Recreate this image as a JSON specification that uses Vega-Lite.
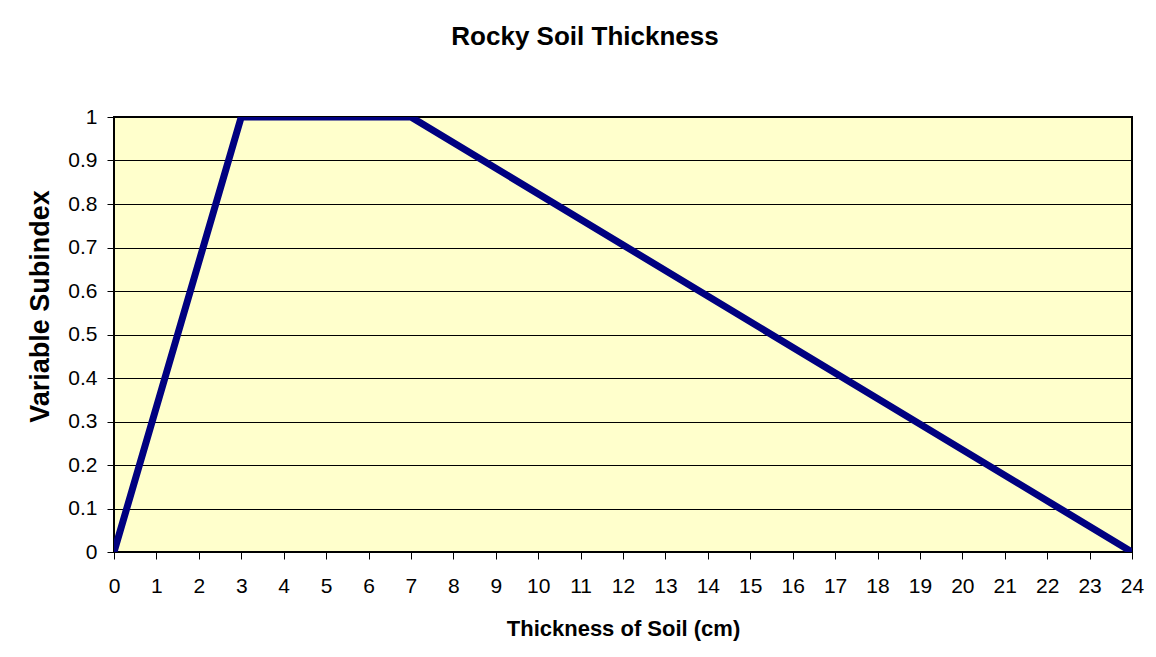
{
  "$schema": "https://vega.github.io/schema/vega-lite/v6.json",
  "width": 1018,
  "height": 435,
  "autosize": {"type": "none"},
  "padding": {"left": 114, "top": 117, "right": 24, "bottom": 105},
  "background": "white",
  "title": {
    "text": "Rocky Soil Thickness",
    "font": "Liberation Sans",
    "fontSize": 26,
    "fontWeight": "bold",
    "color": "black",
    "anchor": "middle",
    "baseline": "alphabetic",
    "offset": 35,
    "dx": -38
  },
  "data": {
    "values": [
      {"thickness": 0, "subindex": 0},
      {"thickness": 3, "subindex": 1},
      {"thickness": 7, "subindex": 1},
      {"thickness": 24, "subindex": 0}
    ]
  },
  "mark": {"type": "line", "color": "#000080", "strokeWidth": 7, "clip": true, "strokeJoin": "miter"},
  "encoding": {
    "x": {
      "field": "thickness",
      "type": "quantitative",
      "scale": {"domain": [0, 24], "nice": false, "zero": false},
      "axis": {
        "title": "Thickness of Soil (cm)",
        "values": [0,1,2,3,4,5,6,7,8,9,10,11,12,13,14,15,16,17,18,19,20,21,22,23,24],
        "format": "d",
        "grid": false,
        "domain": false,
        "tickColor": "black",
        "tickSize": 7,
        "labelFont": "Liberation Sans",
        "labelFontSize": 21,
        "labelColor": "black",
        "labelPadding": 16,
        "labelFlush": false,
        "labelOverlap": false,
        "titleFont": "Liberation Sans",
        "titleFontSize": 22,
        "titleFontWeight": "bold",
        "titleColor": "black",
        "titleBaseline": "alphabetic",
        "titleY": 83
      }
    },
    "y": {
      "field": "subindex",
      "type": "quantitative",
      "scale": {"domain": [0, 1], "nice": false},
      "axis": {
        "title": "Variable Subindex",
        "values": [0, 0.1, 0.2, 0.3, 0.4, 0.5, 0.6, 0.7, 0.8, 0.9, 1],
        "format": "~g",
        "grid": true,
        "gridColor": "black",
        "gridOpacity": 1,
        "gridWidth": 1,
        "domain": false,
        "tickColor": "black",
        "tickSize": 7,
        "labelFont": "Liberation Sans",
        "labelFontSize": 21,
        "labelColor": "black",
        "labelPadding": 10,
        "labelFlush": false,
        "labelOverlap": false,
        "titleFont": "Liberation Sans",
        "titleFontSize": 27,
        "titleFontWeight": "bold",
        "titleColor": "black",
        "titleAngle": 270,
        "titleBaseline": "alphabetic",
        "titleAlign": "center",
        "titleX": -66,
        "titleY": 189
      }
    }
  },
  "config": {
    "view": {"fill": "#FFFFCC", "stroke": "black", "strokeWidth": 2}
  }
}
